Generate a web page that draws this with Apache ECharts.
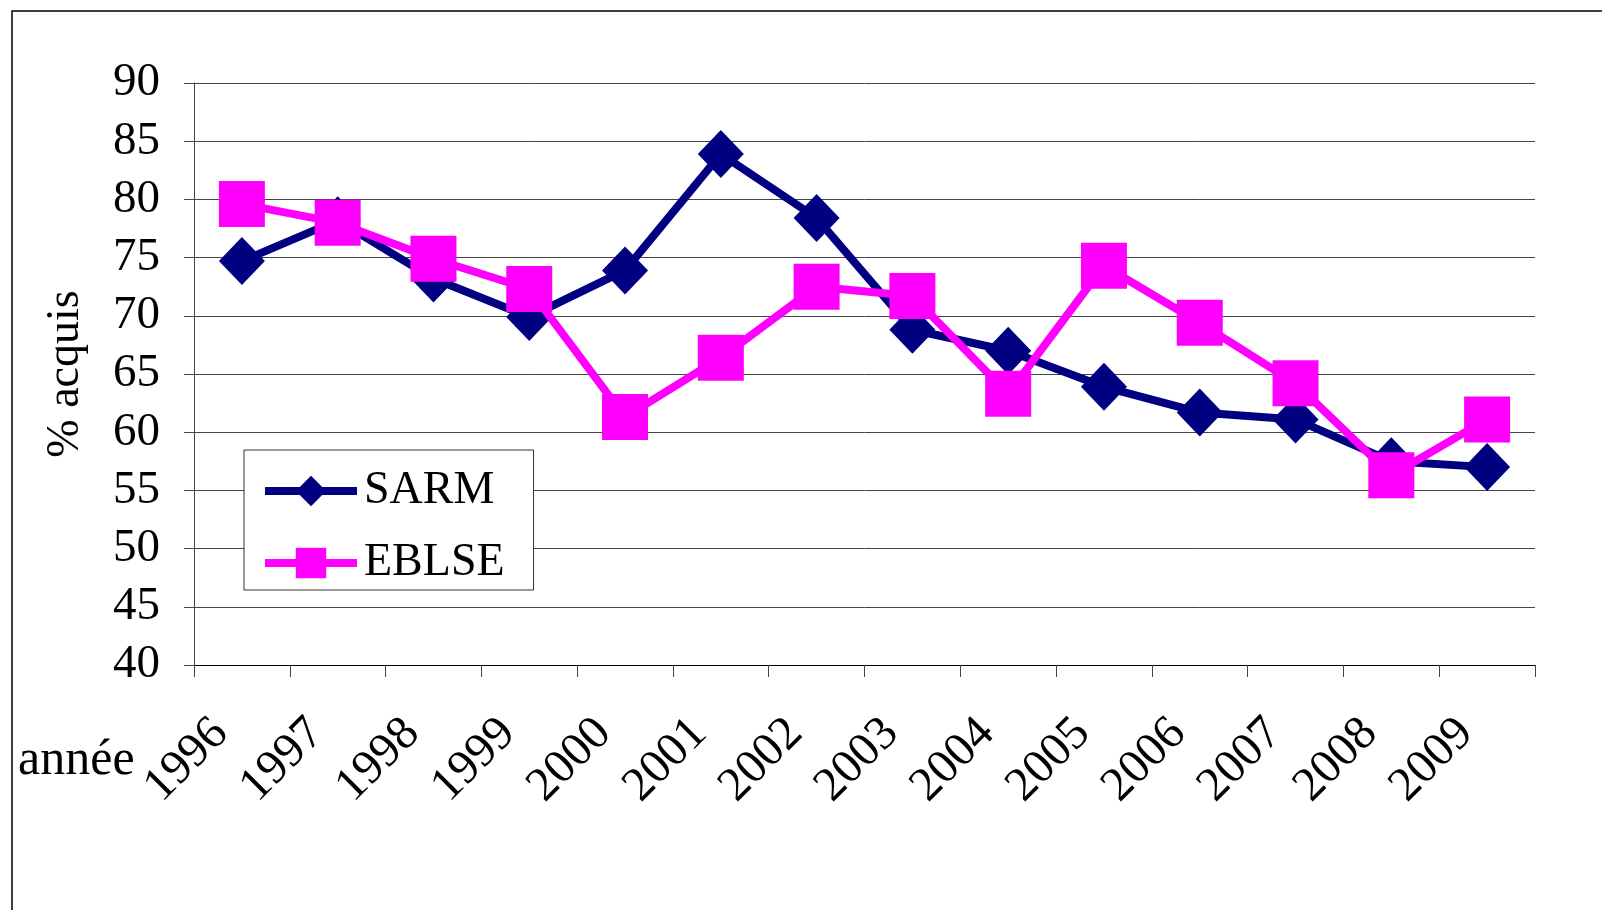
<!DOCTYPE html>
<html>
<head>
<meta charset="utf-8">
<title>SARM / EBLSE</title>
<script src="https://cdn.jsdelivr.net/npm/echarts@6/dist/echarts.min.js"></script>
<style>
  html, body { margin: 0; padding: 0; background: #fff; }
  #chart { width: 1602px; height: 910px; }
</style>
</head>
<body>
<div id="chart"></div>
<script>
// data
var years = ['1996', '1997', '1998', '1999', '2000', '2001', '2002',
  '2003', '2004', '2005', '2006', '2007', '2008', '2009']
var sarm = [74.7, 78.2, 73.2, 69.9, 73.9, 83.9, 78.4, 68.8, 67.0, 63.9, 61.7, 61.1, 57.5, 57.0]
var eblse = [79.6, 78.0, 74.9, 72.3, 61.3, 66.4, 72.5, 71.7, 63.3, 74.3, 69.4, 64.2, 56.3, 61.1]
var yMin = 40
var yMax = 90
var yStep = 5

var serif = '"Liberation Serif", "DejaVu Serif", serif'

var chart = echarts.init(document.getElementById('chart'))

chart.setOption({
  backgroundColor: '#fff',
  animation: false,
  grid: {
    left: 194,
    right: 67,
    top: 83,
    bottom: 245
  },
  legend: {
    orient: 'vertical',
    left: 244,
    top: 450,
    padding: [18, 29, 4, 17],
    itemGap: 26,
    itemWidth: 92,
    itemHeight: 38,
    backgroundColor: '#fff',
    borderColor: '#333',
    borderWidth: 1,
    borderRadius: 0,
    lineStyle: { width: 8 },
    textStyle: {
      fontFamily: serif,
      fontSize: 46,
      color: '#000',
      padding: [0, 0, 0, 2]
    },
    data: ['SARM', 'EBLSE']
  },
  xAxis: {
    type: 'category',
    boundaryGap: true,
    data: years,
    axisLine: {
      lineStyle: { color: '#000', width: 1 }
    },
    axisTick: {
      show: true,
      length: 12,
      inside: false,
      lineStyle: { color: '#444' }
    },
    axisLabel: {
      interval: 0,
      rotate: 45,
      margin: 40,
      padding: [0, 30, 0, 0],
      fontFamily: serif,
      fontSize: 48,
      color: '#000'
    },
    splitLine: { show: false }
  },
  yAxis: {
    type: 'value',
    min: yMin,
    max: yMax,
    interval: yStep,
    name: '% acquis',
    nameLocation: 'middle',
    nameGap: 105,
    nameRotate: 90,
    nameTextStyle: {
      fontFamily: serif,
      fontSize: 46,
      color: '#000'
    },
    axisLine: {
      show: true,
      lineStyle: { color: '#444', width: 1 }
    },
    axisTick: {
      show: true,
      length: 10,
      inside: false,
      lineStyle: { color: '#444' }
    },
    axisLabel: {
      margin: 34,
      fontFamily: serif,
      fontSize: 47,
      color: '#000'
    },
    splitLine: {
      show: true,
      lineStyle: { color: '#444', width: 1 }
    }
  },
  graphic: [
    {
      // outer frame, only top and left edges are visible
      type: 'polyline',
      silent: true,
      shape: { points: [[12, 910], [12, 11], [1602, 11]] },
      style: { stroke: '#000', lineWidth: 1.5, fill: null }
    },
    {
      type: 'text',
      left: 18,
      top: 736,
      style: {
        text: 'année',
        fontFamily: serif,
        fontSize: 50,
        fill: '#000'
      }
    }
  ],
  series: [
    {
      name: 'SARM',
      type: 'line',
      data: sarm,
      symbol: 'diamond',
      symbolSize: [46, 48],
      lineStyle: { color: '#000080', width: 8 },
      itemStyle: { color: '#000080' },
      z: 2
    },
    {
      name: 'EBLSE',
      type: 'line',
      data: eblse,
      symbol: 'rect',
      symbolSize: 46,
      lineStyle: { color: '#ff00ff', width: 8 },
      itemStyle: { color: '#ff00ff' },
      z: 3
    }
  ]
})
</script>
</body>
</html>
